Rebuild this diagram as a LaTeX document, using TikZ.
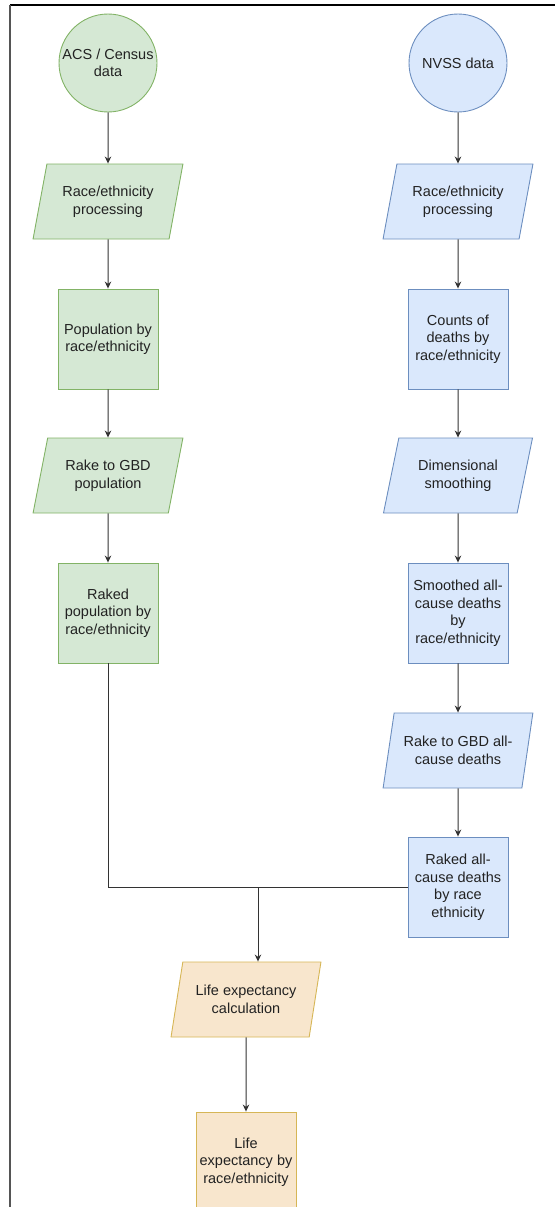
\documentclass[tikz,border=0pt]{standalone}
\usepackage{fontspec}
\setmainfont{Liberation Sans}
\usetikzlibrary{shapes.geometric,arrows.meta}
\definecolor{grfill}{HTML}{D5E8D4}
\definecolor{grline}{HTML}{82B366}
\definecolor{blfill}{HTML}{DAE8FC}
\definecolor{blline}{HTML}{6C8EBF}
\definecolor{orfill}{HTML}{F8E6CD}
\definecolor{orline}{HTML}{D6B656}
\definecolor{txtgray}{HTML}{222222}
\definecolor{linegray}{HTML}{333333}
\definecolor{framegray}{HTML}{555555}
\begin{document}
\begin{tikzpicture}[>={Stealth[length=7pt,width=6.5pt]}, x=1pt, y=-1pt,
	every node/.style={font=\fontsize{14.5}{17.5}\selectfont, text=txtgray, align=center, inner sep=0pt, line width=0.9pt},
	datanode/.style={circle, minimum size=98pt},
	procbox/.style={rectangle, minimum width=100pt, minimum height=100pt},
	iobox/.style={trapezium, trapezium left angle=71.57, trapezium right angle=108.43, trapezium stretches=true, minimum width=150pt, minimum height=75pt},
	greenfill/.style={fill=grfill, draw=grline},
	bluefill/.style={fill=blfill, draw=blline},
	orangefill/.style={fill=orfill, draw=orline},
	conn/.style={draw=linegray, line width=1pt}]
		\useasboundingbox (0,0) rectangle (555,1207);
		\clip (0,0) rectangle (555,1207);
		% frame
		\draw[black, line width=1.5pt] (10,5) -- (555,5);
		\draw[framegray, line width=2pt] (10,5) -- (10,1207);
		% population column
		\node[datanode, greenfill] (acs) at (108,63) {ACS / Census\\data};
		\node[iobox, greenfill] (popproc) at (108,201.5) {Race/ethnicity\\processing};
		\node[procbox, greenfill] (popbyrace) at (108,339) {Population by\\race/ethnicity};
		\node[iobox, greenfill] (rakepop) at (108,475.5) {Rake to GBD\\population};
		\node[procbox, greenfill] (rakedpop) at (108,613) {Raked\\population by\\race/ethnicity};
		% deaths column
		\node[datanode, bluefill] (nvss) at (458,63) {NVSS data};
		\node[iobox, bluefill] (deathproc) at (458,201.5) {Race/ethnicity\\processing};
		\node[procbox, bluefill] (deathcounts) at (458,339) {Counts of\\deaths by\\race/ethnicity};
		\node[iobox, bluefill] (smoothing) at (458,475.5) {Dimensional\\smoothing};
		\node[procbox, bluefill] (smoothed) at (458,613) {Smoothed all-\\cause deaths\\by\\race/ethnicity};
		\node[iobox, bluefill] (rakedeaths) at (458,750.5) {Rake to GBD all-\\cause deaths};
		\node[procbox, bluefill] (rakeddeaths) at (458,887) {Raked all-\\cause deaths\\by race\\ethnicity};
		% life expectancy
		\node[iobox, orangefill] (lecalc) at (246,999.5) {Life expectancy\\calculation};
		\node[procbox, orangefill] (lebyrace) at (246,1162) {Life\\expectancy by\\race/ethnicity};
		\draw[conn, ->] (acs) -- (popproc);
		\draw[conn, ->] (popproc) -- (popbyrace);
		\draw[conn, ->] (popbyrace) -- (rakepop);
		\draw[conn, ->] (rakepop) -- (rakedpop);
		\draw[conn, ->] (nvss) -- (deathproc);
		\draw[conn, ->] (deathproc) -- (deathcounts);
		\draw[conn, ->] (deathcounts) -- (smoothing);
		\draw[conn, ->] (smoothing) -- (smoothed);
		\draw[conn, ->] (smoothed) -- (rakedeaths);
		\draw[conn, ->] (rakedeaths) -- (rakeddeaths);
		\draw[conn] (rakedpop) |- (rakeddeaths);
		\coordinate (merge) at (258,887);
		\draw[conn, ->] (merge) -- (merge |- lecalc.north);
		\draw[conn, ->] (lecalc) -- (lebyrace);
\end{tikzpicture}
\end{document}
